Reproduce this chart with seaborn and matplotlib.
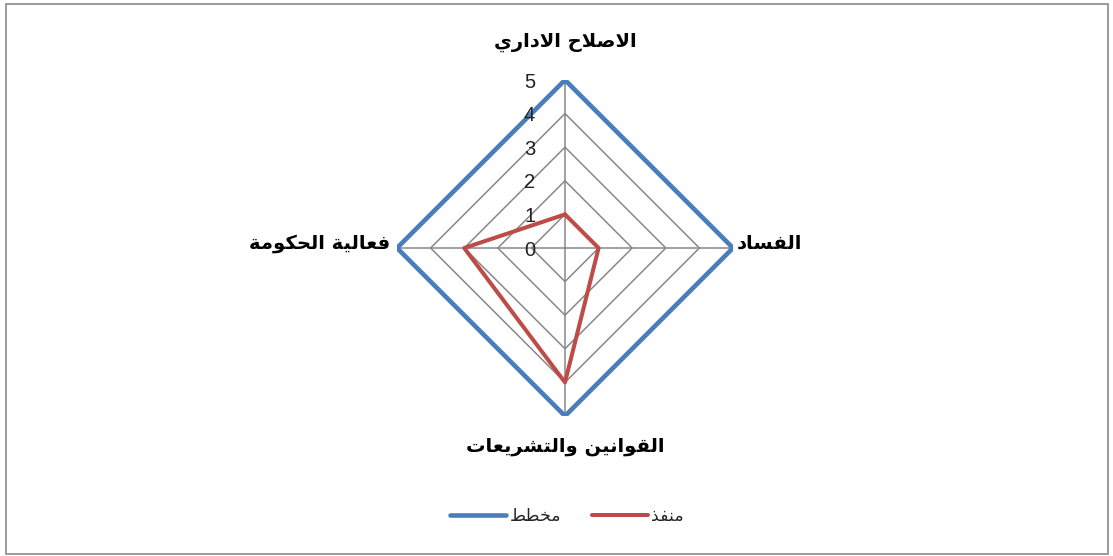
import numpy as np
import matplotlib
matplotlib.use("Agg")
import matplotlib.pyplot as plt
from matplotlib.patches import Rectangle
from matplotlib.lines import Line2D
import seaborn as sns

# ---- data -------------------------------------------------------------
categories = ["الاصلاح الاداري", "الفساد", "القوانين والتشريعات", "فعالية الحكومة"]
planned = [5, 5, 5, 5]      # مخطط
actual = [1, 1, 4, 3]       # منفذ
series_names = ["مخطط", "منفذ"]
r_ticks = [0, 1, 2, 3, 4, 5]

# ---- minimal Arabic shaping (contextual forms + right-to-left order) ---
_DUAL = {
    "ب": 0xFE8F, "ت": 0xFE95, "ث": 0xFE99, "ج": 0xFE9D, "ح": 0xFEA1,
    "خ": 0xFEA5, "س": 0xFEB1, "ش": 0xFEB5, "ص": 0xFEB9, "ض": 0xFEBD,
    "ط": 0xFEC1, "ظ": 0xFEC5, "ع": 0xFEC9, "غ": 0xFECD, "ف": 0xFED1,
    "ق": 0xFED5, "ك": 0xFED9, "ل": 0xFEDD, "م": 0xFEE1, "ن": 0xFEE5,
    "ه": 0xFEE9, "ي": 0xFEF1,
}
_RIGHT = {
    "ا": 0xFE8D, "أ": 0xFE83, "إ": 0xFE87, "آ": 0xFE81, "د": 0xFEA9,
    "ذ": 0xFEAB, "ر": 0xFEAD, "ز": 0xFEAF, "و": 0xFEED, "ة": 0xFE93,
    "ى": 0xFEEF,
}
_LAM_ALEF = {"ا": 0xFEFB, "أ": 0xFEF7, "إ": 0xFEF9, "آ": 0xFEF5}


def ar(text):
    chars = list(text)
    n = len(chars)
    out = []
    i = 0
    while i < n:
        c = chars[i]
        joins_prev = i > 0 and chars[i - 1] in _DUAL
        if c == "ل" and i + 1 < n and chars[i + 1] in _LAM_ALEF:
            base = _LAM_ALEF[chars[i + 1]]
            out.append(chr(base + (1 if joins_prev else 0)))
            i += 2
            continue
        if c in _DUAL:
            joins_next = i + 1 < n and (chars[i + 1] in _DUAL or chars[i + 1] in _RIGHT)
            base = _DUAL[c]
            if joins_prev and joins_next:
                out.append(chr(base + 3))
            elif joins_next:
                out.append(chr(base + 2))
            elif joins_prev:
                out.append(chr(base + 1))
            else:
                out.append(chr(base))
        elif c in _RIGHT:
            out.append(chr(_RIGHT[c] + (1 if joins_prev else 0)))
        else:
            out.append(c)
        i += 1
    return "".join(reversed(out))


# ---- style ------------------------------------------------------------
sns.set_theme(style="white")
plt.rcParams["font.family"] = ["DejaVu Sans"]

BLUE = "#4A7EBB"
RED = "#BE4B48"
GRID = "#888888"

W, H = 1113, 556
fig = plt.figure(figsize=(W / 100, H / 100), dpi=100)
fig.patch.set_facecolor("white")

# outer border
fig.add_artist(Rectangle((6 / W, 2 / H), 1102 / W, 550 / H, transform=fig.transFigure,
                         fill=False, edgecolor="#8a8a8a", linewidth=1.2))

cx, cy, R = 565, 248, 168
ax = fig.add_axes([(cx - R) / W, (H - cy - R) / H, 2 * R / W, 2 * R / H], projection="polar")
ax.set_theta_zero_location("N")
ax.set_theta_direction(-1)
ax.set_ylim(0, max(r_ticks))
ax.grid(False)
ax.set_xticks([])
ax.set_yticks([])
ax.spines["polar"].set_visible(False)
ax.set_facecolor("none")

n = len(categories)
theta = np.linspace(0, 2 * np.pi, n, endpoint=False)
theta_closed = np.append(theta, theta[0])

# polygon gridlines and spokes
for lvl in r_ticks[1:]:
    ax.plot(theta_closed, [lvl] * (n + 1), color=GRID, lw=1.1, zorder=1)
for t in theta:
    ax.plot([t, t], [0, max(r_ticks)], color=GRID, lw=1.1, zorder=1)

# series
sns.lineplot(x=theta_closed, y=planned + planned[:1], sort=False, estimator=None,
             ax=ax, color=BLUE, lw=3.3, zorder=3, legend=False)
sns.lineplot(x=theta_closed, y=actual + actual[:1], sort=False, estimator=None,
             ax=ax, color=RED, lw=2.9, zorder=4, legend=False)

# radial value labels along the top spoke
for v in r_ticks:
    ax.annotate(str(v), xy=(0, v), xytext=(-21.5, -1.5), textcoords="offset points",
                ha="right", va="center", fontsize=14.5, family="Liberation Sans",
                color="#222222", zorder=5)

# category labels
offsets = [(0, 27, "center", "center"), (3, 3.5, "left", "center"),
           (0, -22, "center", "center"), (-5, 3.5, "right", "center")]
for t, lab, (dx, dy, ha, va) in zip(theta, categories, offsets):
    ax.annotate(ar(lab), xy=(t, max(r_ticks)), xytext=(dx, dy), textcoords="offset points",
                ha=ha, va=va, fontsize=14, fontweight="bold", color="black",
                annotation_clip=False)

# legend
handles = [Line2D([], [], color=BLUE, lw=3.3, solid_capstyle="round"),
           Line2D([], [], color=RED, lw=2.9, solid_capstyle="round")]
fig.legend(handles, [ar(s) for s in series_names], loc="center",
           bbox_to_anchor=(567 / W, 1 - 516 / H), ncol=2, frameon=False,
           fontsize=12.5, handlelength=3.2, handletextpad=0.2, columnspacing=1.8)

fig.savefig("out.png", dpi=100, facecolor="white")
